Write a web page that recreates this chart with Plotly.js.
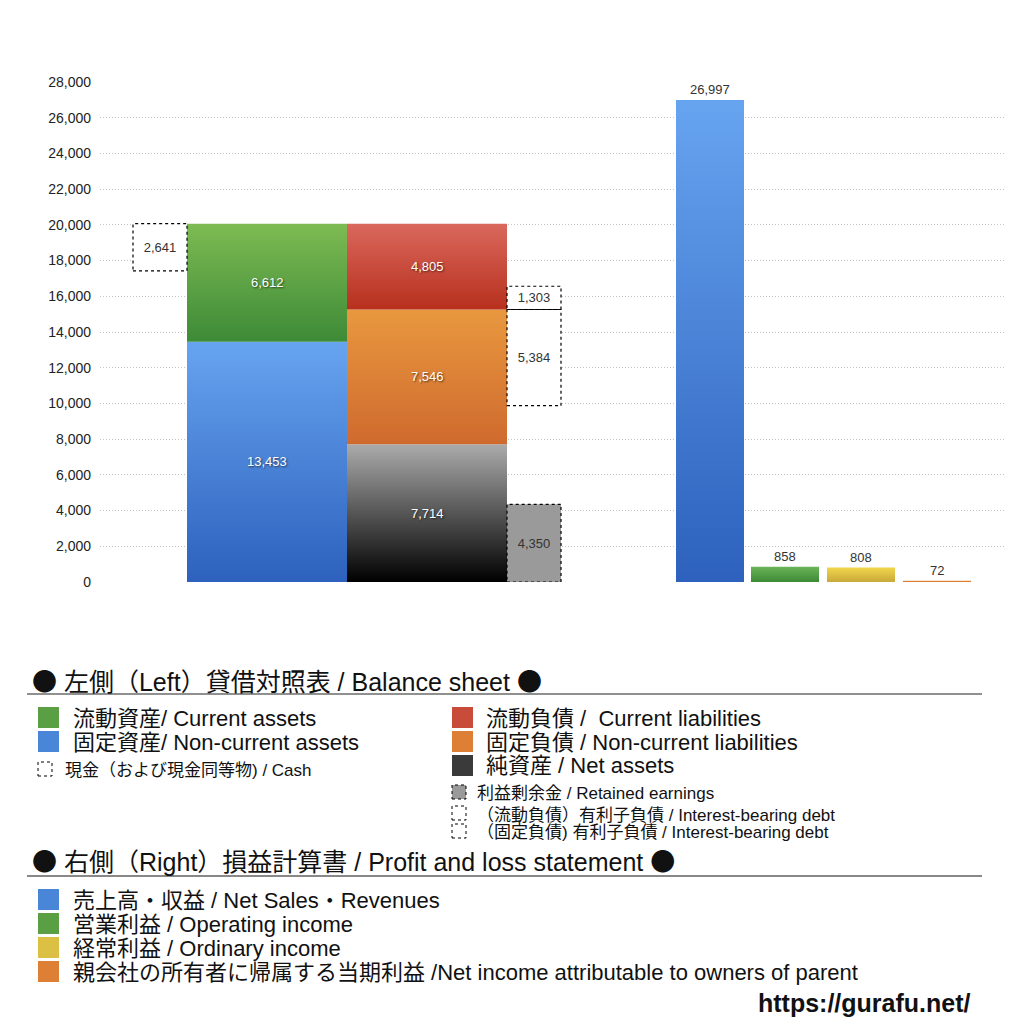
<!DOCTYPE html>
<html>
<head>
<meta charset="utf-8">
<script src="https://cdn.plot.ly/plotly-3.0.1.min.js"></script>
<style>
  html, body { margin: 0; padding: 0; background: #fff; }
  #chart { width: 1024px; height: 1024px; }
</style>
</head>
<body>
<div id="chart"></div>
<script>
// balance sheet (left side)
var assetNames = ['固定資産', '流動資産'];
var assetValues = [13453, 6612];                 // non-current, current
var claimNames = ['純資産', '固定負債', '流動負債'];
var claimValues = [7714, 7546, 4805];            // net assets, non-current liab, current liab
var cashValue = 2641;
var retainedValue = 4350;
var debtNames = ['（固定負債）有利子負債', '（流動負債）有利子負債'];
var debtValues = [5384, 1303];                   // non-current, current
// profit and loss (right side)
var plNames = ['売上高・収益', '営業利益', '経常利益', '当期利益'];
var plValues = [26997, 858, 808, 72];
var yTicks = [0, 2000, 4000, 6000, 8000, 10000, 12000, 14000, 16000, 18000, 20000, 22000, 24000, 26000, 28000];

// layout positions (x axis runs in page pixels 100..1005)
var xCash = 160, xAssets = 267, xClaims = 427, xSide = 534;
var wide = 160, narrow = 54;
var plX = [710, 785, 861, 937];
var plW = 68;

// [bottom, top] gradient colours
var assetColors = [['#2d61bd', '#67a4f0'], ['#3d8a37', '#7ebb53']];
var claimColors = [['#000000', '#ababab'], ['#cf6a2e', '#e9983f'], ['#b7301d', '#da685d']];
var plColors = [['#2d61bd', '#67a4f0'], ['#3d8a37', '#6cb458'], ['#c8a83a', '#f1d64b'], ['#cf6a2e', '#e9983f']];

var FONT = '"Liberation Sans", "Noto Sans CJK JP", sans-serif';
var fmt = function(v) { return v.toLocaleString('en-US'); };
var shadow = '1px 1px 2px rgba(0,0,0,0.6)';

var traces = [];
var ann = [];

// a bar drawn as a filled rectangle so it can carry a vertical gradient
function gradBar(name, xc, w, b, v, cols) {
  traces.push({type: 'scatter', mode: 'lines', name: name,
    x: [xc - w / 2, xc + w / 2, xc + w / 2, xc - w / 2, xc - w / 2],
    y: [b, b, b + v, b + v, b],
    fill: 'toself', line: {width: 0, color: cols[1]},
    fillgradient: {type: 'vertical', colorscale: [[0, cols[0]], [1, cols[1]]]}});
}
function inLabel(xc, yc, v, color, sh) {
  ann.push({xref: 'x', yref: 'y', x: xc, y: yc, text: fmt(v), showarrow: false,
    font: {family: FONT, size: 13, color: color, shadow: sh || 'none'}});
}

var base = 0;
assetValues.forEach(function(v, i) {
  gradBar(assetNames[i], xAssets, wide, base, v, assetColors[i]);
  inLabel(xAssets, base + v / 2, v, '#fff', shadow);
  base += v;
});
var totalAssets = base;
base = 0;
claimValues.forEach(function(v, i) {
  gradBar(claimNames[i], xClaims, wide, base, v, claimColors[i]);
  inLabel(xClaims, base + v / 2, v, '#fff', shadow);
  base += v;
});
var liabTop = claimValues[0] + claimValues[1];

// dotted boxes: cash, retained earnings, interest-bearing debt
var boxes = [
  {x: xCash, v: cashValue, b: totalAssets - cashValue, fill: '#ffffff'},
  {x: xSide, v: retainedValue, b: 0, fill: '#9a9a9a'},
  {x: xSide, v: debtValues[0], b: liabTop - debtValues[0], fill: '#ffffff'},
  {x: xSide, v: debtValues[1], b: liabTop, fill: '#ffffff'}
];
var shapes = [];
boxes.forEach(function(bx) {
  traces.push({type: 'bar', x: [bx.x], y: [bx.v], base: [bx.b], width: [narrow],
    marker: {color: bx.fill, line: {width: 0}},
    text: [fmt(bx.v)], textposition: 'inside', insidetextanchor: 'middle',
    textfont: {color: '#333', size: 13, family: FONT}});
  shapes.push({type: 'rect', xref: 'x', yref: 'y', x0: bx.x - narrow / 2, x1: bx.x + narrow / 2,
    y0: bx.b, y1: bx.b + bx.v, line: {color: '#000', width: 1.2, dash: 'dot'}});
});

plValues.forEach(function(v, i) {
  gradBar(plNames[i], plX[i], plW, 0, v, plColors[i]);
  ann.push({xref: 'x', yref: 'y', x: plX[i], y: v, yanchor: 'bottom', yshift: 1,
    text: fmt(v), showarrow: false, font: {family: FONT, size: 13, color: '#333'}});
});

// legend block built from shapes and annotations (page pixel helpers)
function px(p) { return (p - 100) / 905; }
function py(p) { return (582 - p) / 500; }
function label(x, y, txt, size, extra) {
  var a = {xref: 'paper', yref: 'paper', x: px(x), y: py(y), text: txt, showarrow: false,
    xanchor: 'left', yanchor: 'middle', borderpad: 0,
    font: {family: FONT, size: size, color: '#111'}};
  for (var k in extra) a[k] = extra[k];
  ann.push(a);
}
function swatch(x0, y0, s, color, dotted) {
  shapes.push({type: 'rect', xref: 'paper', yref: 'paper', x0: px(x0), x1: px(x0 + s),
    y0: py(y0 + s), y1: py(y0), fillcolor: color,
    line: dotted ? {color: '#000', width: 1, dash: 'dot'} : {width: 0}});
}
function rule(y, color, w) {
  shapes.push({type: 'line', xref: 'paper', yref: 'paper', x0: px(27), x1: px(982),
    y0: py(y), y1: py(y), line: {color: color, width: w}});
}
var dot = '<span style="font-family:\'Noto Sans CJK JP\'">●</span>';

label(31, 680, dot + ' 左側（Left）貸借対照表 / Balance sheet ' + dot, 25);
rule(694, '#222', 1.2);
swatch(38, 707, 21, '#5a9f44');
label(72, 718, '流動資産/ Current assets', 22);
swatch(38, 731, 21, '#4a86d8');
label(72, 742, '固定資産/ Non-current assets', 22);
swatch(38, 762, 14, '#ffffff', true);
label(64, 770, '現金（および現金同等物) / Cash', 17);
swatch(452, 707, 21, '#c94b39');
label(485, 718, '流動負債 /  Current liabilities', 22);
swatch(452, 731, 21, '#dd8036');
label(485, 742, '固定負債 / Non-current liabilities', 22);
swatch(452, 755, 21, '#3a3a3a');
label(485, 766, '純資産 / Net assets', 22);
swatch(452, 785, 14, '#9a9a9a', true);
label(476, 793, '利益剰余金 / Retained earnings', 17);
swatch(452, 806, 14, '#ffffff', true);
label(476, 815, '（流動負債）有利子負債 / Interest-bearing debt', 17);
swatch(452, 824, 14, '#ffffff', true);
label(476, 832, '（固定負債) 有利子負債 / Interest-bearing debt', 17);

label(31, 860, dot + ' 右側（Right）損益計算書 / Profit and loss statement ' + dot, 25);
rule(876, '#888', 2);
var plLegend = ['売上高・収益 / Net Sales・Revenues', '営業利益 / Operating income',
  '経常利益 / Ordinary income', '親会社の所有者に帰属する当期利益 /Net income attributable to owners of parent'];
var plSwatch = ['#4a86d8', '#5a9f44', '#dcc043', '#dd8036'];
plLegend.forEach(function(t, i) {
  swatch(38, 889 + i * 24, 21, plSwatch[i]);
  label(72, 900 + i * 24, t, 22);
});
label(972, 1003, '<b>https://gurafu.net/</b>', 25, {xanchor: 'right'});

var layout = {
  width: 1024, height: 1024,
  margin: {l: 100, r: 19, t: 82, b: 442},
  paper_bgcolor: '#fff', plot_bgcolor: '#fff',
  barmode: 'overlay',
  showlegend: false,
  hovermode: false,
  font: {family: FONT, color: '#222'},
  xaxis: {range: [100, 1005], showgrid: false, zeroline: false, showticklabels: false, ticks: '', fixedrange: true},
  yaxis: {range: [0, 28000], tickvals: yTicks, ticktext: yTicks.map(fmt),
    showgrid: true, gridcolor: '#c4c4c4', griddash: '1px,2px', gridwidth: 1,
    zeroline: false, ticks: '', ticklabelstandoff: 8,
    tickfont: {size: 14, family: FONT, color: '#222'}, fixedrange: true},
  shapes: shapes,
  annotations: ann
};

Plotly.newPlot('chart', traces, layout, {staticPlot: true});
</script>
</body>
</html>
